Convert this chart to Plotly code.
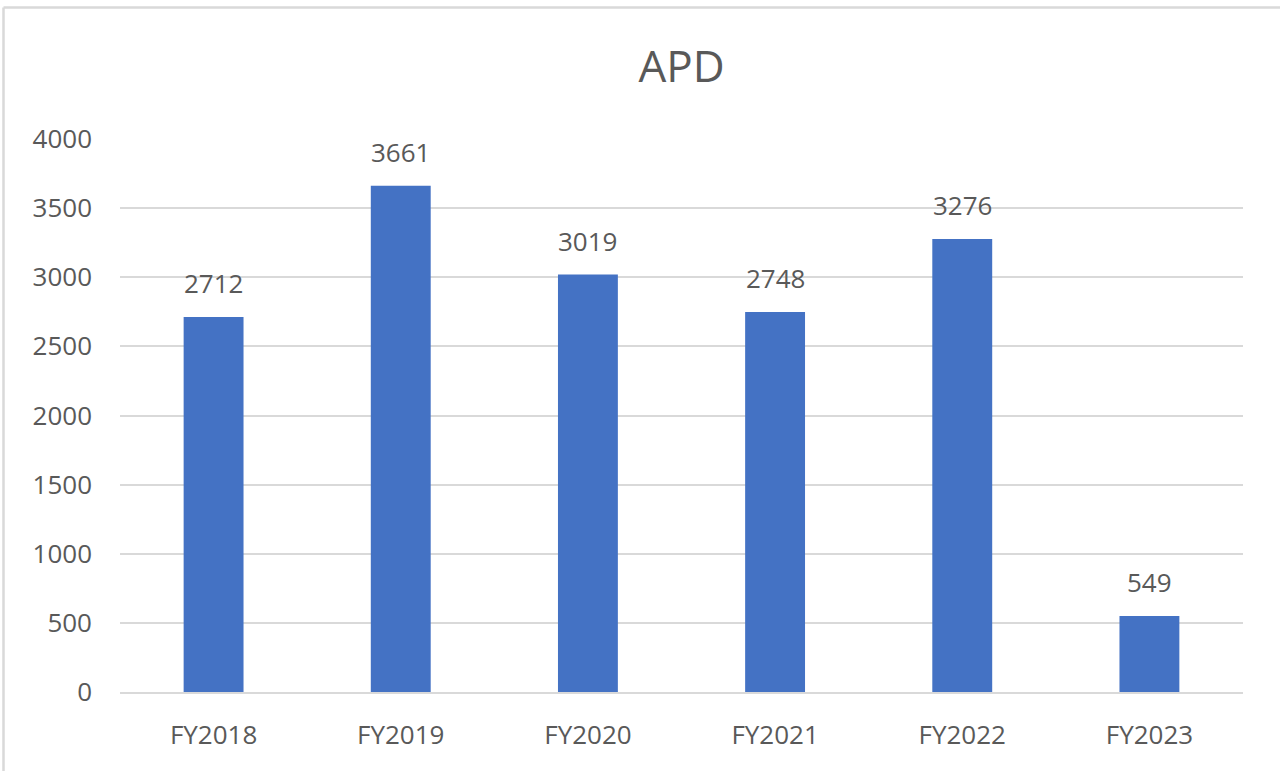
import plotly.graph_objects as go

categories = ["FY2018", "FY2019", "FY2020", "FY2021", "FY2022", "FY2023"]
values = [2712, 3661, 3019, 2748, 3276, 549]
title_text = "APD"
y_ticks = [0, 500, 1000, 1500, 2000, 2500, 3000, 3500, 4000]

TEXT = "#595959"
FONT = "Open Sans"

fig = go.Figure()
fig.add_trace(go.Bar(
    x=categories, y=values,
    marker=dict(color="#4472C4", line=dict(width=0)),
    hoverinfo="x+y",
))

for c, v in zip(categories, values):
    fig.add_annotation(x=c, y=v, text=str(v), showarrow=False,
                       yanchor="middle", yshift=34,
                       font=dict(family=FONT, size=26, color=TEXT))

L, R, T, B = 120, 37, 139, 79
W, H = 1280, 771
pw, ph = W - L - R, H - T - B
px = lambda x: (x - L) / pw
py = lambda y: (H - B - y) / ph

# outer chart border (top & left visible)
fig.add_shape(type="line", xref="paper", yref="paper",
              x0=px(3.5), x1=px(1290), y0=py(7.5), y1=py(7.5),
              line=dict(color="#d9d9d9", width=2.5))
fig.add_shape(type="line", xref="paper", yref="paper",
              x0=px(3.5), x1=px(3.5), y0=py(7.5), y1=py(790),
              line=dict(color="#d9d9d9", width=2.5))

fig.update_layout(
    width=W, height=H,
    margin=dict(l=L, r=R, t=T, b=B, pad=0),
    paper_bgcolor="white", plot_bgcolor="white",
    bargap=0.68,
    showlegend=False,
    title=dict(text=title_text, x=0.5, xref="paper", xanchor="center",
               y=1 - 67 / H, yanchor="middle",
               font=dict(family=FONT, size=44, color=TEXT)),
    xaxis=dict(showgrid=False, showline=True, linecolor="#d9d9d9", linewidth=2,
               ticks="", tickfont=dict(family=FONT, size=26, color=TEXT),
               ticklabelstandoff=19, fixedrange=True),
    yaxis=dict(range=[0, 4000], tickvals=y_ticks, showgrid=True,
               gridcolor="#d9d9d9", gridwidth=2, zeroline=False,
               showline=False, ticks="",
               tickfont=dict(family=FONT, size=26, color=TEXT),
               ticklabelstandoff=27, fixedrange=True),
)

fig.write_html("out.html", config={"displayModeBar": False},
               post_script="document.body.style.margin='0';document.body.style.overflow='hidden';")
